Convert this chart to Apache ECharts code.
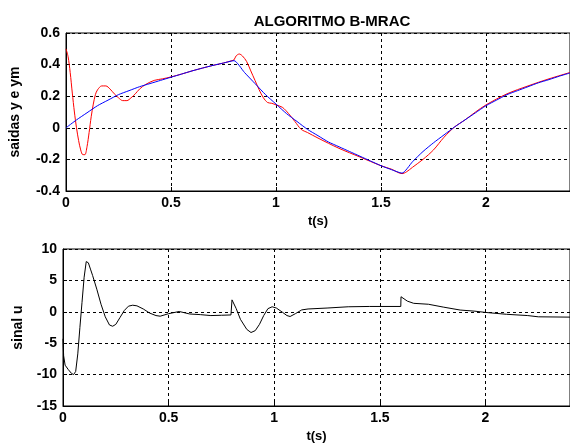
<!DOCTYPE html>
<html><head><meta charset="utf-8">
<script src="https://cdn.jsdelivr.net/npm/echarts@6/dist/echarts.min.js"></script>
<style>html,body{margin:0;padding:0;background:#fff}#c{width:570px;height:444px}</style>
</head><body><div id="c"></div><script>
// ---- data ----
const tY = [0,0.01,0.02,0.03,0.04,0.05,0.06,0.07,0.08,0.09,0.10,0.11,0.12,0.13,0.14,0.15,0.17,0.19,0.21,0.23,0.25,0.27,0.29,0.31,0.33,0.35,0.38,0.42,0.46,0.5,0.55,0.6,0.65,0.7,0.75,0.79,0.8,0.81,0.825,0.84,0.86,0.88,0.9,0.92,0.94,0.96,0.98,1.0,1.03,1.06,1.09,1.12,1.15,1.2,1.3,1.4,1.5,1.55,1.6,1.62,1.65,1.7,1.75,1.8,1.85,1.9,1.95,2.0,2.1,2.2,2.3,2.4];
const yVals = [0.5,0.45,0.35,0.22,0.1,0.0,-0.08,-0.14,-0.17,-0.17,-0.12,-0.03,0.07,0.15,0.21,0.24,0.265,0.265,0.245,0.215,0.19,0.172,0.172,0.19,0.215,0.245,0.275,0.3,0.31,0.322,0.34,0.36,0.378,0.395,0.41,0.425,0.43,0.455,0.467,0.455,0.42,0.36,0.3,0.24,0.19,0.16,0.155,0.145,0.13,0.09,0.04,-0.01,-0.03,-0.065,-0.13,-0.185,-0.24,-0.262,-0.29,-0.28,-0.25,-0.2,-0.14,-0.06,0.005,0.05,0.1,0.145,0.215,0.265,0.31,0.35];
const tYm = [0,0.05,0.1,0.15,0.2,0.25,0.3,0.35,0.4,0.45,0.5,0.55,0.6,0.65,0.7,0.75,0.8,0.85,0.9,0.95,1.0,1.05,1.1,1.15,1.2,1.25,1.3,1.35,1.4,1.45,1.5,1.55,1.6,1.65,1.7,1.75,1.8,1.85,1.9,1.95,2.0,2.05,2.1,2.15,2.2,2.25,2.3,2.35,2.4];
const ymVals = [0,0.05,0.095,0.14,0.175,0.21,0.235,0.26,0.28,0.3,0.32,0.34,0.36,0.378,0.395,0.41,0.425,0.35,0.28,0.21,0.15,0.09,0.04,-0.01,-0.05,-0.09,-0.12,-0.15,-0.18,-0.21,-0.24,-0.265,-0.287,-0.215,-0.15,-0.095,-0.045,0.005,0.05,0.095,0.14,0.175,0.21,0.235,0.26,0.285,0.305,0.327,0.347];
const tU = [0,0.003,0.01,0.025,0.04,0.05,0.06,0.07,0.08,0.09,0.1,0.11,0.12,0.13,0.14,0.16,0.18,0.2,0.22,0.235,0.25,0.27,0.29,0.31,0.33,0.35,0.38,0.41,0.44,0.46,0.5,0.55,0.6,0.65,0.7,0.75,0.795,0.8,0.82,0.84,0.87,0.89,0.91,0.93,0.95,0.97,0.99,1.01,1.04,1.06,1.075,1.1,1.13,1.16,1.25,1.35,1.45,1.599,1.6,1.63,1.66,1.73,1.8,1.88,1.95,2.0,2.1,2.2,2.25,2.4];
const uVals = [-4.3,-7,-8.5,-9.2,-9.8,-10,-9.5,-6.7,-2.5,1.5,5.5,8.0,7.8,6.8,5.8,3.6,1.2,-0.8,-2.1,-2.3,-2.0,-0.9,0.2,0.9,1.05,0.95,0.45,-0.2,-0.6,-0.7,-0.3,0.05,-0.35,-0.45,-0.6,-0.55,-0.5,1.9,0.5,-1.2,-2.8,-3.3,-3.0,-2.0,-0.6,0.5,0.8,0.6,-0.1,-0.6,-0.75,-0.3,0.3,0.45,0.6,0.8,0.85,0.85,2.4,1.7,1.35,1.2,0.75,0.28,0.1,-0.1,-0.4,-0.6,-0.8,-0.85];
const xTickLabels = ['0','0.5','1','1.5','2'];
const topYTickLabels = ['-0.4','-0.2','0','0.2','0.4','0.6'];
const botYTickLabels = ['-15','-10','-5','0','5','10'];

const pairs = (t, v) => t.map((x, i) => [x, v[i]]);
const FONT = 'Arial, "Liberation Sans", Helvetica, sans-serif';
const lab = {color:'#000', fontFamily:FONT, fontWeight:'bold', fontSize:14};
const split = {show:true, lineStyle:{color:'#000', type:[3,3], width:1}};
const axLine = {show:true, onZero:false, lineStyle:{color:'#000', width:1}};
const tick = {show:true, inside:true, length:4, lineStyle:{color:'#000'}};

function xAx(gi) {
  return {type:'value', gridIndex:gi, min:0, max:2.4, interval:0.5,
    axisLine:axLine, axisTick:tick, splitLine:split,
    axisLabel:Object.assign({}, lab, {showMaxLabel:false, margin:5,
      formatter:v => { const i = Math.round(v/0.5); return xTickLabels[i] !== undefined ? xTickLabels[i] : ''; }}),
    name:'t(s)', nameLocation:'middle', nameGap:24,
    nameTextStyle:Object.assign({}, lab, {fontSize:13})};
}

const chart = echarts.init(document.getElementById('c'), null, {renderer:'canvas'});
chart.setOption({
  backgroundColor:'#fff',
  animation:false,
  title:{text:'ALGORITMO B-MRAC', left:327, top:9, textAlign:'center',
    textStyle:Object.assign({}, lab, {fontSize:15})},
  grid:[
    {left:63, top:33, right:0, bottom:253, show:true, borderColor:'#000', borderWidth:1, backgroundColor:'#fff'},
    {left:63, top:249, right:0, bottom:38, show:true, borderColor:'#000', borderWidth:1, backgroundColor:'#fff'}
  ],
  xAxis:[xAx(0), xAx(1)],
  yAxis:[
    {type:'value', gridIndex:0, min:-0.4, max:0.6, interval:0.2,
      axisLine:axLine, axisTick:tick, splitLine:split,
      axisLabel:Object.assign({}, lab, {margin:6,
        formatter:v => topYTickLabels[Math.round((v+0.4)/0.2)]}),
      name:'saidas y e ym', nameLocation:'middle', nameGap:44, nameRotate:90,
      nameTextStyle:Object.assign({}, lab, {fontSize:14})},
    {type:'value', gridIndex:1, min:-15, max:10, interval:5,
      axisLine:axLine, axisTick:tick, splitLine:split,
      axisLabel:Object.assign({}, lab, {margin:6,
        formatter:v => botYTickLabels[Math.round((v+15)/5)]}),
      name:'sinal u', nameLocation:'middle', nameGap:38, nameRotate:90,
      nameTextStyle:Object.assign({}, lab, {fontSize:14})}
  ],
  series:[
    {type:'line', xAxisIndex:0, yAxisIndex:0, data:pairs(tY, yVals), showSymbol:false,
      smooth:0.3, lineStyle:{color:'#ff0000', width:1}, z:3},
    {type:'line', xAxisIndex:0, yAxisIndex:0, data:pairs(tYm, ymVals), showSymbol:false,
      smooth:0.2, lineStyle:{color:'#0000ff', width:1}, z:4},
    {type:'line', xAxisIndex:1, yAxisIndex:1, data:pairs(tU, uVals), showSymbol:false,
      lineStyle:{color:'#000', width:1}, z:3}
  ]
});
</script></body></html>
